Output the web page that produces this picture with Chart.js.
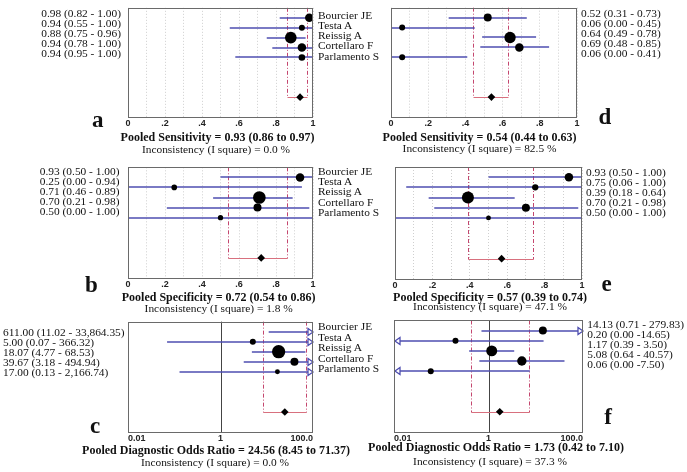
<!DOCTYPE html>
<html>
<head>
<meta charset="utf-8">
<script src="https://cdn.jsdelivr.net/npm/chart.js@4.4.0/dist/chart.umd.min.js"></script>
<style>
  html, body { margin: 0; padding: 0; background: #fff; }
  #fig { position: relative; width: 687px; height: 472px; overflow: hidden;
         font-family: 'Liberation Serif', 'Times New Roman', serif; color: #111; }
  #fig canvas { position: absolute; }
  .t { position: absolute; white-space: nowrap; line-height: 1; font-size: 11.4px; }
  .pooled { font-weight: bold; font-size: 12px; }
  .letter { font-weight: bold; font-size: 23px; }
</style>
</head>
<body>
<div id="fig"></div>
<script>
// Studies (same order in every panel)
const studies = ['Bourcier JE', 'Testa A', 'Reissig A', 'Cortellaro F', 'Parlamento S'];

// Tick labels
const propTicks = ['0', '.2', '.4', '.6', '.8', '1'];
const orTickValues = [0.01, 1, 100];
const orTicks = ['0.01', '1', '100.0'];

// a - sensitivity (left)
const sensAEst = [0.98, 0.94, 0.88, 0.94, 0.94];
const sensALo = [0.82, 0.55, 0.75, 0.78, 0.58]; // last bar is drawn from ~0.58 although its label says 0.95
const sensAHi = [1.00, 1.00, 0.96, 1.00, 1.00];
const sensAWeight = [18, 9, 34, 18, 11];
const sensALabels = ['0.98 (0.82 - 1.00)', '0.94 (0.55 - 1.00)', '0.88 (0.75 - 0.96)', '0.94 (0.78 - 1.00)', '0.94 (0.95 - 1.00)'];
const sensAPooled = [0.93, 0.86, 0.97];

// d - sensitivity (right)
const sensDEst = [0.52, 0.06, 0.64, 0.69, 0.06];
const sensDLo = [0.31, 0.00, 0.49, 0.48, 0.00];
const sensDHi = [0.73, 0.45, 0.78, 0.85, 0.41];
const sensDWeight = [16, 9, 32, 18, 9];
const sensDLabels = ['0.52 (0.31 - 0.73)', '0.06 (0.00 - 0.45)', '0.64 (0.49 - 0.78)', '0.69 (0.48 - 0.85)', '0.06 (0.00 - 0.41)'];
const sensDPooled = [0.54, 0.44, 0.63];

// b - specificity (left)
const specBEst = [0.93, 0.25, 0.71, 0.70, 0.50];
const specBLo = [0.50, 0.00, 0.46, 0.21, 0.00];
const specBHi = [1.00, 0.94, 0.89, 0.98, 1.00];
const specBWeight = [18, 8, 40, 16, 7];
const specBLabels = ['0.93 (0.50 - 1.00)', '0.25 (0.00 - 0.94)', '0.71 (0.46 - 0.89)', '0.70 (0.21 - 0.98)', '0.50 (0.00 - 1.00)'];
const specBPooled = [0.72, 0.54, 0.86];

// e - specificity (right)
const specEEst = [0.93, 0.75, 0.39, 0.70, 0.50];
const specELo = [0.50, 0.06, 0.18, 0.21, 0.00];
const specEHi = [1.00, 1.00, 0.64, 0.98, 1.00];
const specEWeight = [18, 10, 36, 16, 6];
const specELabels = ['0.93 (0.50 - 1.00)', '0.75 (0.06 - 1.00)', '0.39 (0.18 - 0.64)', '0.70 (0.21 - 0.98)', '0.50 (0.00 - 1.00)'];
const specEPooled = [0.57, 0.39, 0.74];

// c - diagnostic odds ratio (left)
const dorCEst = [611.00, 5.00, 18.07, 39.67, 17.00];
const dorCLo = [11.02, 0.07, 4.77, 3.18, 0.13];
const dorCHi = [33864.35, 366.32, 68.53, 494.94, 2166.74];
const dorCWeight = [16, 9, 44, 16, 6];
const dorCLabels = ['611.00 (11.02 - 33,864.35)', '5.00 (0.07 - 366.32)', '18.07 (4.77 - 68.53)', '39.67 (3.18 - 494.94)', '17.00 (0.13 - 2,166.74)'];
const dorCPooled = [24.56, 8.45, 71.37];

// f - diagnostic odds ratio (right)
const dorFEst = [14.13, 0.20, 1.17, 5.08, 0.06];
const dorFLo = [0.71, 0.00, 0.39, 0.64, 0.00];
const dorFHi = [279.83, 14.65, 3.50, 40.57, 7.50];
const dorFWeight = [16, 9, 30, 22, 9];
const dorFLabels = ['14.13 (0.71 - 279.83)', '0.20 (0.00 -14.65)', '1.17 (0.39 - 3.50)', '5.08 (0.64 - 40.57)', '0.06 (0.00 -7.50)'];
const dorFPooled = [1.73, 0.42, 7.10];

const POOLED_ROW = 9;
const CI_COLOR = '#4e4eb0';
const fig = document.getElementById('fig');

// Draws CI bars, arrows, pooled bracket and the frame
const forestPlugin = {
    id: 'forest',
    beforeDatasetsDraw(chart, args, opts) {
        const { ctx, chartArea: a, scales: { x, y } } = chart;
        ctx.save();
        ctx.lineWidth = 1;

        // reference line at OR = 1
        if (opts.refLine != null) {
            const rx = Math.round(x.getPixelForValue(opts.refLine)) + 0.5;
            ctx.strokeStyle = '#444';
            ctx.beginPath(); ctx.moveTo(rx, a.top); ctx.lineTo(rx, a.bottom); ctx.stroke();
        }

        // pooled CI: dash-dot verticals + bracket
        const pl = Math.round(x.getPixelForValue(opts.pooled[1])) + 0.5;
        const ph = Math.round(x.getPixelForValue(opts.pooled[2])) + 0.5;
        const py = Math.round(y.getPixelForValue(POOLED_ROW)) + 0.5;
        ctx.strokeStyle = '#c4466e';
        ctx.setLineDash([4, 2, 1, 2]);
        ctx.beginPath();
        ctx.moveTo(pl, a.top); ctx.lineTo(pl, py);
        ctx.moveTo(ph, a.top); ctx.lineTo(ph, py);
        ctx.stroke();
        ctx.setLineDash([]);
        ctx.strokeStyle = '#d8707e';
        ctx.beginPath(); ctx.moveTo(pl, py); ctx.lineTo(ph, py); ctx.stroke();

        // study confidence intervals (slightly soft, like the scanned original)
        ctx.lineWidth = 1.3;
        opts.lo.forEach((lo, i) => {
            const hi = opts.hi[i];
            const yy = Math.round(y.getPixelForValue(i + 1));
            const leftArrow = lo < x.min, rightArrow = hi > x.max;
            const x0 = leftArrow ? a.left + 5 : x.getPixelForValue(lo);
            const x1 = rightArrow ? a.right - 5 : x.getPixelForValue(hi);
            ctx.strokeStyle = CI_COLOR;
            ctx.fillStyle = '#fff';
            ctx.beginPath(); ctx.moveTo(x0, yy); ctx.lineTo(x1, yy); ctx.stroke();
            if (rightArrow) {
                ctx.beginPath();
                ctx.moveTo(a.right, yy); ctx.lineTo(a.right - 5, yy - 3.5); ctx.lineTo(a.right - 5, yy + 3.5);
                ctx.closePath(); ctx.fill(); ctx.stroke();
            }
            if (leftArrow) {
                ctx.beginPath();
                ctx.moveTo(a.left + 1, yy); ctx.lineTo(a.left + 6, yy - 3.5); ctx.lineTo(a.left + 6, yy + 3.5);
                ctx.closePath(); ctx.fill(); ctx.stroke();
            }
        });
        ctx.restore();
    },
    afterDraw(chart) {
        const { ctx, chartArea: a } = chart;
        ctx.save();
        ctx.strokeStyle = '#6a6a6a';
        ctx.lineWidth = 1;
        ctx.strokeRect(Math.round(a.left) + 0.5, Math.round(a.top) + 0.5,
                       Math.round(a.right - a.left) - 1, Math.round(a.bottom - a.top));
        ctx.restore();
    }
};

function addText(text, x, y, cls, align) {
    const d = document.createElement('div');
    d.className = 't ' + (cls || '');
    d.textContent = text;
    d.style.left = x + 'px';
    d.style.top = y + 'px';
    const tx = align === 'right' ? '-100%' : align === 'center' ? '-50%' : '0';
    d.style.transform = `translate(${tx}, -50%)`;
    fig.appendChild(d);
}

// box = plot area [left, top, right, bottom] in page pixels
function makeForest(box, est, lo, hi, weight, pooled, logScale) {
    const padX = 16, padTop = 3, axisH = 14;
    const [L, T, R, B] = box;
    const canvas = document.createElement('canvas');
    canvas.width = R - L + 2 * padX;
    canvas.height = B - T + padTop + axisH;
    canvas.style.left = (L - padX) + 'px';
    canvas.style.top = (T - padTop) + 'px';
    fig.appendChild(canvas);

    const xScale = logScale ? {
        type: 'logarithmic', min: 0.01, max: 100,
        afterBuildTicks: axis => { axis.ticks = orTickValues.map(v => ({ value: v })); },
        ticks: { callback: v => orTicks[orTickValues.indexOf(v)], align: 'inner' },
        grid: { display: false, drawTicks: false }
    } : {
        type: 'linear', min: 0, max: 1,
        ticks: {
            stepSize: 0.1,
            callback: v => { const k = Math.round(v * 10); return k % 2 === 0 ? propTicks[k / 2] : ''; }
        },
        grid: { color: '#cfcfcf', drawTicks: false }
    };
    Object.assign(xScale.ticks, {
        autoSkip: false, maxRotation: 0, padding: 1, color: '#222',
        font: { family: 'Liberation Sans', size: 9, weight: 'bold' }
    });
    xScale.border = { display: false, dash: [1, 2] };
    xScale.afterFit = axis => { axis.height = axisH; };

    new Chart(canvas, {
        type: 'scatter',
        data: {
            datasets: [{
                data: est.map((v, i) => ({ x: v, y: i + 1 })),
                pointRadius: weight.map(w => Math.sqrt(w)),
                pointBackgroundColor: '#000',
                pointBorderWidth: 0
            }, {
                data: [{ x: pooled[0], y: POOLED_ROW }],
                pointStyle: 'rectRot',
                pointRadius: 3.8,
                pointBackgroundColor: '#000',
                pointBorderWidth: 0
            }]
        },
        options: {
            responsive: false,
            animation: false,
            devicePixelRatio: 1,
            layout: { padding: { left: padX, right: padX, top: padTop, bottom: 0 } },
            plugins: {
                legend: { display: false },
                tooltip: { enabled: false },
                forest: { lo, hi, pooled, refLine: logScale ? 1 : null }
            },
            scales: {
                x: xScale,
                y: { type: 'linear', min: 0, max: 11, reverse: true, display: false }
            }
        },
        plugins: [forestPlugin]
    });
}

makeForest([128, 5, 313, 117], sensAEst, sensALo, sensAHi, sensAWeight, sensAPooled, false);
makeForest([391, 5, 577, 117], sensDEst, sensDLo, sensDHi, sensDWeight, sensDPooled, false);
makeForest([128, 164, 313, 278], specBEst, specBLo, specBHi, specBWeight, specBPooled, false);
makeForest([395, 164, 582, 279], specEEst, specELo, specEHi, specEWeight, specEPooled, false);
makeForest([128, 318, 313, 432], dorCEst, dorCLo, dorCHi, dorCWeight, dorCPooled, true);
makeForest([394, 318, 583, 432], dorFEst, dorFLo, dorFHi, dorFWeight, dorFPooled, true);

// value columns and study names
function column(labels, x, y0, step, align) {
    labels.forEach((s, i) => addText(s, x, y0 + i * step, '', align));
}
column(sensALabels, 121, 13.7, 10, 'right');
column(sensDLabels, 581, 14, 10, 'left');
column(specBLabels, 119.5, 171.7, 10.1, 'right');
column(specELabels, 586, 172.7, 10, 'left');
column(dorCLabels, 3, 333.3, 10, 'left');
column(dorFLabels, 587.3, 325, 10, 'left');
column(studies, 318, 15.7, 10.25, 'left');
column(studies, 318, 172, 10.2, 'left');
column(studies, 318, 327, 10.5, 'left');

// pooled summaries
addText('Pooled Sensitivity = 0.93 (0.86 to 0.97)', 217.5, 137.3, 'pooled', 'center');
addText('Inconsistency (I square) = 0.0 %', 216, 149.5, '', 'center');
addText('Pooled Sensitivity = 0.54 (0.44 to 0.63)', 479.5, 137.3, 'pooled', 'center');
addText('Inconsistency (I square) = 82.5 %', 479.5, 149.3, '', 'center');
addText('Pooled Specificity = 0.72 (0.54 to 0.86)', 218.7, 296.7, 'pooled', 'center');
addText('Inconsistency (I square) = 1.8 %', 218.7, 309.3, '', 'center');
addText('Pooled Specificity = 0.57 (0.39 to 0.74)', 490, 296.7, 'pooled', 'center');
addText('Inconsistency (I square) = 47.1 %', 490, 307.3, '', 'center');
addText('Pooled Diagnostic Odds Ratio = 24.56 (8.45 to 71.37)', 216, 450, 'pooled', 'center');
addText('Inconsistency (I square) = 0.0 %', 215, 463.3, '', 'center');
addText('Pooled Diagnostic Odds Ratio = 1.73 (0.42 to 7.10)', 496, 446.7, 'pooled', 'center');
addText('Inconsistency (I square) = 37.3 %', 490, 461.7, '', 'center');

// panel letters
addText('a', 97.7, 119, 'letter', 'center');
addText('b', 91.3, 284, 'letter', 'center');
addText('c', 95, 425, 'letter', 'center');
addText('d', 605, 116, 'letter', 'center');
addText('e', 606.7, 283, 'letter', 'center');
addText('f', 608, 416, 'letter', 'center');
</script>
</body>
</html>
